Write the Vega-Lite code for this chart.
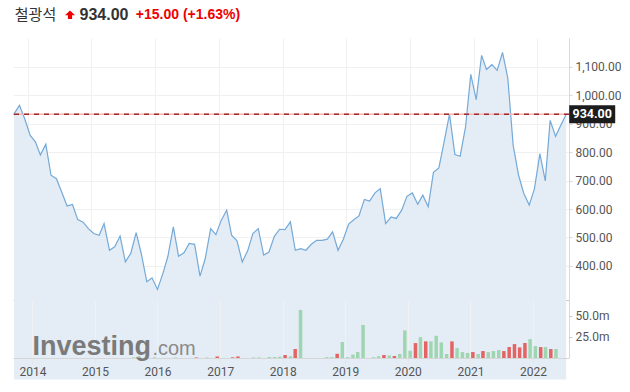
{
  "$schema": "https://vega.github.io/schema/vega-lite/v6.json",
  "padding": {"left": 11, "top": 5, "right": 0, "bottom": 0},
  "background": "white",
  "config": {"view": {"stroke": null}, "font": "Roboto"},
  "datasets": {
    "price": [
      {"date": "2013-10-15", "price": 935}, {"date": "2013-11-15", "price": 965}, {"date": "2013-12-15", "price": 918},
      {"date": "2014-01-15", "price": 860}, {"date": "2014-02-15", "price": 836}, {"date": "2014-03-15", "price": 790},
      {"date": "2014-04-15", "price": 828}, {"date": "2014-05-15", "price": 719}, {"date": "2014-06-15", "price": 707},
      {"date": "2014-07-15", "price": 660}, {"date": "2014-08-15", "price": 611}, {"date": "2014-09-15", "price": 616},
      {"date": "2014-10-15", "price": 563}, {"date": "2014-11-15", "price": 554}, {"date": "2014-12-15", "price": 531},
      {"date": "2015-01-15", "price": 514}, {"date": "2015-02-15", "price": 508}, {"date": "2015-03-15", "price": 549},
      {"date": "2015-04-15", "price": 455}, {"date": "2015-05-15", "price": 467}, {"date": "2015-06-15", "price": 505},
      {"date": "2015-07-15", "price": 414}, {"date": "2015-08-15", "price": 444}, {"date": "2015-09-15", "price": 517},
      {"date": "2015-10-15", "price": 441}, {"date": "2015-11-15", "price": 344}, {"date": "2015-12-15", "price": 358},
      {"date": "2016-01-15", "price": 317}, {"date": "2016-02-15", "price": 373}, {"date": "2016-03-15", "price": 434},
      {"date": "2016-04-15", "price": 537}, {"date": "2016-05-15", "price": 434}, {"date": "2016-06-15", "price": 446},
      {"date": "2016-07-15", "price": 479}, {"date": "2016-08-15", "price": 476}, {"date": "2016-09-15", "price": 364},
      {"date": "2016-10-15", "price": 426}, {"date": "2016-11-15", "price": 531}, {"date": "2016-12-15", "price": 510},
      {"date": "2017-01-15", "price": 561}, {"date": "2017-02-15", "price": 596}, {"date": "2017-03-15", "price": 508},
      {"date": "2017-04-15", "price": 488}, {"date": "2017-05-15", "price": 414}, {"date": "2017-06-15", "price": 453},
      {"date": "2017-07-15", "price": 514}, {"date": "2017-08-15", "price": 531}, {"date": "2017-09-15", "price": 438},
      {"date": "2017-10-15", "price": 449}, {"date": "2017-11-15", "price": 504}, {"date": "2017-12-15", "price": 529},
      {"date": "2018-01-15", "price": 528}, {"date": "2018-02-15", "price": 555}, {"date": "2018-03-15", "price": 455},
      {"date": "2018-04-15", "price": 461}, {"date": "2018-05-15", "price": 455}, {"date": "2018-06-15", "price": 476},
      {"date": "2018-07-15", "price": 490}, {"date": "2018-08-15", "price": 490}, {"date": "2018-09-15", "price": 494},
      {"date": "2018-10-15", "price": 520}, {"date": "2018-11-15", "price": 455}, {"date": "2018-12-15", "price": 493},
      {"date": "2019-01-15", "price": 547}, {"date": "2019-02-15", "price": 563}, {"date": "2019-03-15", "price": 576},
      {"date": "2019-04-15", "price": 634}, {"date": "2019-05-15", "price": 628}, {"date": "2019-06-15", "price": 657},
      {"date": "2019-07-15", "price": 672}, {"date": "2019-08-15", "price": 549}, {"date": "2019-09-15", "price": 572},
      {"date": "2019-10-15", "price": 567}, {"date": "2019-11-15", "price": 596}, {"date": "2019-12-15", "price": 645},
      {"date": "2020-01-15", "price": 657}, {"date": "2020-02-15", "price": 617}, {"date": "2020-03-15", "price": 649},
      {"date": "2020-04-15", "price": 608}, {"date": "2020-05-15", "price": 729}, {"date": "2020-06-15", "price": 745},
      {"date": "2020-07-15", "price": 836}, {"date": "2020-08-15", "price": 934}, {"date": "2020-09-15", "price": 792},
      {"date": "2020-10-15", "price": 786}, {"date": "2020-11-15", "price": 889}, {"date": "2020-12-15", "price": 1074},
      {"date": "2021-01-15", "price": 985}, {"date": "2021-02-15", "price": 1141}, {"date": "2021-03-15", "price": 1091},
      {"date": "2021-04-15", "price": 1108}, {"date": "2021-05-15", "price": 1088}, {"date": "2021-06-15", "price": 1151},
      {"date": "2021-07-15", "price": 1062}, {"date": "2021-08-15", "price": 824}, {"date": "2021-09-15", "price": 719},
      {"date": "2021-10-15", "price": 655}, {"date": "2021-11-15", "price": 614}, {"date": "2021-12-15", "price": 672},
      {"date": "2022-01-15", "price": 795}, {"date": "2022-02-15", "price": 699}, {"date": "2022-03-15", "price": 912},
      {"date": "2022-04-15", "price": 856}, {"date": "2022-05-15", "price": 895}, {"date": "2022-06-15", "price": 934}
    ],
    "vol": [
      {"date": "2015-08-15", "vol": 0.8, "dir": "up"}, {"date": "2015-09-15", "vol": 0.8, "dir": "up"},
      {"date": "2015-12-15", "vol": 0.8, "dir": "up"}, {"date": "2016-04-15", "vol": 0.6, "dir": "up"},
      {"date": "2016-08-15", "vol": 0.6, "dir": "down"}, {"date": "2016-10-15", "vol": 0.6, "dir": "up"},
      {"date": "2016-12-15", "vol": 1.8, "dir": "down"}, {"date": "2017-03-15", "vol": 0.8, "dir": "down"},
      {"date": "2017-04-15", "vol": 1.8, "dir": "down"}, {"date": "2017-07-15", "vol": 0.7, "dir": "up"},
      {"date": "2017-08-15", "vol": 0.7, "dir": "up"}, {"date": "2017-10-15", "vol": 1.2, "dir": "up"},
      {"date": "2017-11-15", "vol": 1.2, "dir": "up"}, {"date": "2017-12-15", "vol": 1.5, "dir": "up"},
      {"date": "2018-01-15", "vol": 3.5, "dir": "down"}, {"date": "2018-02-15", "vol": 2.0, "dir": "up"},
      {"date": "2018-03-15", "vol": 10.6, "dir": "down"}, {"date": "2018-04-15", "vol": 56.7, "dir": "up"},
      {"date": "2018-09-15", "vol": 1.0, "dir": "up"}, {"date": "2018-10-15", "vol": 1.0, "dir": "up"},
      {"date": "2018-11-15", "vol": 5.0, "dir": "down"}, {"date": "2018-12-15", "vol": 18.8, "dir": "up"},
      {"date": "2019-01-15", "vol": 1.0, "dir": "up"}, {"date": "2019-02-15", "vol": 4.0, "dir": "up"},
      {"date": "2019-03-15", "vol": 7.0, "dir": "up"}, {"date": "2019-04-15", "vol": 39.0, "dir": "up"},
      {"date": "2019-06-15", "vol": 1.0, "dir": "up"}, {"date": "2019-07-15", "vol": 2.0, "dir": "up"},
      {"date": "2019-08-15", "vol": 3.5, "dir": "down"}, {"date": "2019-09-15", "vol": 3.0, "dir": "up"},
      {"date": "2019-10-15", "vol": 2.3, "dir": "down"}, {"date": "2019-11-15", "vol": 4.7, "dir": "up"},
      {"date": "2019-12-15", "vol": 32.5, "dir": "up"}, {"date": "2020-01-15", "vol": 8.6, "dir": "up"},
      {"date": "2020-02-15", "vol": 17.6, "dir": "down"}, {"date": "2020-03-15", "vol": 24.6, "dir": "up"},
      {"date": "2020-04-15", "vol": 19.6, "dir": "down"}, {"date": "2020-05-15", "vol": 19.6, "dir": "up"},
      {"date": "2020-06-15", "vol": 26.2, "dir": "up"}, {"date": "2020-07-15", "vol": 18.4, "dir": "up"},
      {"date": "2020-08-15", "vol": 4.7, "dir": "up"}, {"date": "2020-09-15", "vol": 19.6, "dir": "down"},
      {"date": "2020-10-15", "vol": 11.7, "dir": "up"}, {"date": "2020-11-15", "vol": 7.0, "dir": "up"},
      {"date": "2020-12-15", "vol": 5.9, "dir": "up"}, {"date": "2021-01-15", "vol": 7.0, "dir": "down"},
      {"date": "2021-02-15", "vol": 4.7, "dir": "up"}, {"date": "2021-03-15", "vol": 8.2, "dir": "down"},
      {"date": "2021-04-15", "vol": 7.0, "dir": "up"}, {"date": "2021-05-15", "vol": 8.2, "dir": "up"},
      {"date": "2021-06-15", "vol": 9.4, "dir": "up"}, {"date": "2021-07-15", "vol": 8.2, "dir": "down"},
      {"date": "2021-08-15", "vol": 12.9, "dir": "down"}, {"date": "2021-09-15", "vol": 16.4, "dir": "down"},
      {"date": "2021-10-15", "vol": 12.5, "dir": "down"}, {"date": "2021-11-15", "vol": 17.6, "dir": "down"},
      {"date": "2021-12-15", "vol": 22.3, "dir": "up"}, {"date": "2022-01-15", "vol": 14.1, "dir": "up"},
      {"date": "2022-02-15", "vol": 12.9, "dir": "down"}, {"date": "2022-03-15", "vol": 12.9, "dir": "up"},
      {"date": "2022-04-15", "vol": 10.6, "dir": "down"}, {"date": "2022-05-15", "vol": 10.6, "dir": "up"}
    ]
  },
  "spacing": 13,
  "vconcat": [
    {
      "spacing": 0,
      "bounds": "flush",
      "hconcat": [
        {"width": 45, "height": 20, "data": {"values": [{"t": "철광석"}]},
         "mark": {"type": "text", "font": "Noto Sans CJK KR", "fontSize": 15, "color": "#333333", "align": "center", "baseline": "middle"},
         "encoding": {"text": {"field": "t"}}},
        {"width": 24, "height": 20, "data": {"values": [{"t": "up"}]},
         "mark": {"type": "point", "filled": true, "opacity": 1, "color": "#ee0000", "size": 100,
                  "shape": "M0,-0.9L1,0.05L0.42,0.05L0.42,0.8L-0.42,0.8L-0.42,0.05L-1,0.05Z"},
         "encoding": {}},
        {"width": 44, "height": 20, "data": {"values": [{"t": "934.00"}]},
         "mark": {"type": "text", "font": "Liberation Sans", "fontSize": 16, "fontWeight": "bold", "color": "#333333", "align": "center", "baseline": "middle"},
         "encoding": {"text": {"field": "t"}}},
        {"width": 124, "height": 20, "data": {"values": [{"t": "+15.00 (+1.63%)"}]},
         "mark": {"type": "text", "font": "Liberation Sans", "fontSize": 14, "fontWeight": "bold", "color": "#ee0000", "align": "center", "baseline": "middle"},
         "encoding": {"text": {"field": "t"}}}
      ]
    },
    {
      "spacing": 0,
      "bounds": "flush",
      "vconcat": [
        {
          "width": 556,
          "height": 262,
          "data": {"name": "price"},
          "layer": [
            {
              "mark": {"type": "area", "color": "#e4edf5", "opacity": 1},
              "encoding": {
                "x": {"field": "date", "type": "temporal",
                      "scale": {"domain": [{"year": 2013, "month": 10, "date": 9}, {"year": 2022, "month": 7, "date": 1}]},
                      "axis": {"title": null, "labels": false, "ticks": false, "grid": true, "gridColor": "#f0f0f0",
                               "domain": true, "domainColor": "#c8c8c8", "tickCount": {"interval": "year", "step": 1}}},
                "y": {"field": "price", "type": "quantitative",
                      "scale": {"domain": [280, 1202], "zero": false, "nice": false},
                      "axis": {"orient": "right", "title": null, "values": [400, 500, 600, 700, 800, 900, 1000, 1100],
                               "labelOverlap": false, "format": ",.2f", "grid": true, "gridColor": "#f0f0f0", "domainColor": "#d8d8d8",
                               "tickColor": "#d8d8d8", "tickSize": 3, "labelPadding": 3, "labelFont": "Roboto",
                               "labelFontSize": 12, "labelColor": "#555555"}}
              }
            },
            {
              "mark": {"type": "line", "color": "#74a9d8", "strokeWidth": 1.2},
              "encoding": {
                "x": {"field": "date", "type": "temporal",
                      "scale": {"domain": [{"year": 2013, "month": 10, "date": 9}, {"year": 2022, "month": 7, "date": 1}]},
                      "axis": {"title": null, "labels": false, "ticks": false, "grid": true, "gridColor": "#f0f0f0",
                               "domain": true, "domainColor": "#c8c8c8", "tickCount": {"interval": "year", "step": 1}}},
                "y": {"field": "price", "type": "quantitative",
                      "scale": {"domain": [280, 1202], "zero": false, "nice": false},
                      "axis": {"orient": "right", "title": null, "values": [400, 500, 600, 700, 800, 900, 1000, 1100],
                               "labelOverlap": false, "format": ",.2f", "grid": true, "gridColor": "#f0f0f0", "domainColor": "#d8d8d8",
                               "tickColor": "#d8d8d8", "tickSize": 3, "labelPadding": 3, "labelFont": "Roboto",
                               "labelFontSize": 12, "labelColor": "#555555"}}
              }
            },
            {
              "transform": [{"filter": "year(datum.date) === 2022 && month(datum.date) === 5"}],
              "mark": {"type": "rule", "color": "#f8b4b4", "strokeWidth": 1.5},
              "encoding": {
                "y": {"field": "price", "type": "quantitative",
                      "scale": {"domain": [280, 1202], "zero": false, "nice": false},
                      "axis": {"orient": "right", "title": null, "values": [400, 500, 600, 700, 800, 900, 1000, 1100],
                               "labelOverlap": false, "format": ",.2f", "grid": true, "gridColor": "#f0f0f0", "domainColor": "#d8d8d8",
                               "tickColor": "#d8d8d8", "tickSize": 3, "labelPadding": 3, "labelFont": "Roboto",
                               "labelFontSize": 12, "labelColor": "#555555"}}
              }
            },
            {
              "transform": [{"filter": "year(datum.date) === 2022 && month(datum.date) === 5"}],
              "mark": {"type": "rule", "color": "#9e2a2a", "strokeWidth": 1.5, "strokeDash": [5, 5]},
              "encoding": {
                "y": {"field": "price", "type": "quantitative",
                      "scale": {"domain": [280, 1202], "zero": false, "nice": false},
                      "axis": {"orient": "right", "title": null, "values": [400, 500, 600, 700, 800, 900, 1000, 1100],
                               "labelOverlap": false, "format": ",.2f", "grid": true, "gridColor": "#f0f0f0", "domainColor": "#d8d8d8",
                               "tickColor": "#d8d8d8", "tickSize": 3, "labelPadding": 3, "labelFont": "Roboto",
                               "labelFontSize": 12, "labelColor": "#555555"}}
              }
            },
            {
              "transform": [{"filter": "year(datum.date) === 2022 && month(datum.date) === 5"}],
              "mark": {"type": "rect", "color": "#1c1c1c", "width": 46, "height": 18, "xOffset": 26},
              "encoding": {
                "x": {"field": "date", "type": "temporal",
                      "scale": {"domain": [{"year": 2013, "month": 10, "date": 9}, {"year": 2022, "month": 7, "date": 1}]},
                      "axis": {"title": null, "labels": false, "ticks": false, "grid": true, "gridColor": "#f0f0f0",
                               "domain": true, "domainColor": "#c8c8c8", "tickCount": {"interval": "year", "step": 1}}},
                "y": {"field": "price", "type": "quantitative",
                      "scale": {"domain": [280, 1202], "zero": false, "nice": false},
                      "axis": {"orient": "right", "title": null, "values": [400, 500, 600, 700, 800, 900, 1000, 1100],
                               "labelOverlap": false, "format": ",.2f", "grid": true, "gridColor": "#f0f0f0", "domainColor": "#d8d8d8",
                               "tickColor": "#d8d8d8", "tickSize": 3, "labelPadding": 3, "labelFont": "Roboto",
                               "labelFontSize": 12, "labelColor": "#555555"}}
              }
            },
            {
              "transform": [{"filter": "year(datum.date) === 2022 && month(datum.date) === 5"}],
              "mark": {"type": "text", "color": "#ffffff", "font": "Roboto", "fontWeight": "bold", "fontSize": 12.5,
                       "align": "center", "baseline": "middle", "xOffset": 26},
              "encoding": {
                "x": {"field": "date", "type": "temporal",
                      "scale": {"domain": [{"year": 2013, "month": 10, "date": 9}, {"year": 2022, "month": 7, "date": 1}]},
                      "axis": {"title": null, "labels": false, "ticks": false, "grid": true, "gridColor": "#f0f0f0",
                               "domain": true, "domainColor": "#c8c8c8", "tickCount": {"interval": "year", "step": 1}}},
                "y": {"field": "price", "type": "quantitative",
                      "scale": {"domain": [280, 1202], "zero": false, "nice": false},
                      "axis": {"orient": "right", "title": null, "values": [400, 500, 600, 700, 800, 900, 1000, 1100],
                               "labelOverlap": false, "format": ",.2f", "grid": true, "gridColor": "#f0f0f0", "domainColor": "#d8d8d8",
                               "tickColor": "#d8d8d8", "tickSize": 3, "labelPadding": 3, "labelFont": "Roboto",
                               "labelFontSize": 12, "labelColor": "#555555"}},
                "text": {"field": "price", "type": "quantitative", "format": ".2f"}
              }
            }
          ]
        },
        {
          "width": 556,
          "height": 58,
          "layer": [
            {
              "data": {"values": [{"t": "Investing"}]},
              "mark": {"type": "text", "font": "Liberation Sans", "fontWeight": "bold", "fontSize": 27, "color": "#7a7a7a",
                       "align": "left", "baseline": "alphabetic"},
              "encoding": {
                "x": {"datum": {"year": 2014, "month": 1, "date": 1}, "type": "temporal"},
                "y": {"datum": 3.9, "type": "quantitative"},
                "text": {"field": "t"}
              }
            },
            {
              "data": {"values": [{"t": ".com"}]},
              "mark": {"type": "text", "font": "Liberation Sans", "fontSize": 20, "color": "#8a8a8a",
                       "align": "left", "baseline": "alphabetic", "dx": 120},
              "encoding": {
                "x": {"datum": {"year": 2014, "month": 1, "date": 1}, "type": "temporal"},
                "y": {"datum": 3.9, "type": "quantitative"},
                "text": {"field": "t"}
              }
            },
            {
              "data": {"name": "vol"},
              "mark": {"type": "bar", "width": 3.5},
              "encoding": {
                "x": {"field": "date", "type": "temporal",
                      "scale": {"domain": [{"year": 2013, "month": 10, "date": 9}, {"year": 2022, "month": 7, "date": 1}]},
                      "axis": {"title": null, "format": "%Y", "tickCount": {"interval": "year", "step": 1}, "grid": true,
                               "gridColor": "#f0f0f0", "tickColor": "#e6e6e6", "tickSize": 5, "domainColor": "#d6d6d6",
                               "labelPadding": 3, "labelFont": "Roboto", "labelFontSize": 12, "labelColor": "#555555"}},
                "y": {"field": "vol", "type": "quantitative",
                      "scale": {"domain": [0, 68.4], "nice": false},
                      "axis": {"orient": "right", "title": null, "values": [25, 50], "format": ".1f",
                               "labelExpr": "datum.label + 'm'", "grid": false, "domainColor": "#d8d8d8",
                               "tickColor": "#cccccc", "tickSize": 3, "labelPadding": 3, "labelFont": "Roboto",
                               "labelFontSize": 12, "labelColor": "#555555"}},
                "color": {"field": "dir", "type": "nominal",
                          "scale": {"domain": ["up", "down"], "range": ["#9fd6b1", "#e36464"]}, "legend": null}
              }
            }
          ]
        }
      ]
    }
  ]
}
